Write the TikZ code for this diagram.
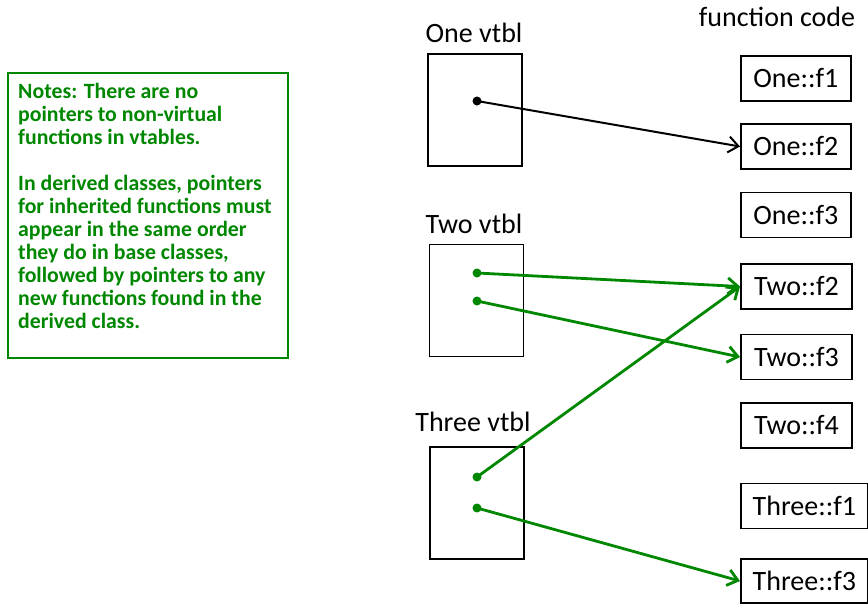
\documentclass[tikz,border=0pt]{standalone}
\usepackage{fontspec}
\setmainfont{Carlito}
\usetikzlibrary{arrows.meta}
\definecolor{ngreen}{RGB}{0,135,0}
\begin{document}
\begin{tikzpicture}[x=1pt,y=-1pt,
  vt/.style={draw,line width=1.8pt,minimum width=94pt,minimum height=112pt,inner sep=0pt},
  fn/.style={draw,line width=1.8pt,anchor=west,minimum height=45pt,inner sep=0pt,font=\fontsize{28}{32}\selectfont},
  lbl/.style={anchor=base,inner sep=0pt,font=\fontsize{28}{32}\selectfont},
  dotb/.style={circle,fill,inner sep=0pt,minimum size=9pt},
  ptr/.style={line width=2pt,-{Straight Barb[length=10pt,width=16pt,line width=2pt]}},
  gptr/.style={ngreen,line width=2.8pt,-{Straight Barb[length=10pt,width=16pt,line width=2.8pt]}}]
\useasboundingbox (0,0) rectangle (868,603);
% notes
\node[draw=ngreen,line width=1.5pt,minimum width=280pt,minimum height=285pt,anchor=north west,inner sep=0pt] (notes) at (7,72) {};
\node[anchor=north west,inner sep=0pt,align=left,text=ngreen,font=\fontsize{21.8}{23}\selectfont\bfseries] (notestext) at (18,83)
{Notes: There are no\\pointers to non-virtual\\functions in vtables.\\[23pt]In derived classes, pointers\\for inherited functions must\\appear in the same order\\they do in base classes,\\followed by pointers to any\\new functions found in the\\derived class.};
% labels
\node[lbl] (lone) at (474,42) {One vtbl};
\node[lbl] (ltwo) at (474,233) {Two vtbl};
\node[lbl] (lthree) at (473,431) {Three vtbl};
\node[lbl] (lfc) at (777,26) {function code};
% vtables
\node[vt] (one) at (475,110) {};
\node[vt] (two) at (476.5,300.5) {};
\node[vt] (three) at (477,503) {};
% function boxes
\node[fn,minimum width=110pt] (of1) at (740,78.5) {One::f1};
\node[fn,minimum width=110pt] (of2) at (740,146.5) {One::f2};
\node[fn,minimum width=110pt] (of3) at (740,215) {One::f3};
\node[fn,minimum width=111pt] (tf2) at (740,286.5) {Two::f2};
\node[fn,minimum width=111pt] (tf3) at (740,357) {Two::f3};
\node[fn,minimum width=111pt] (tf4) at (740,425.5) {Two::f4};
\node[fn,minimum width=127pt] (hf1) at (740,506) {Three::f1};
\node[fn,minimum width=127pt,minimum height=44pt] (hf3) at (740,581) {Three::f3};
% dots
\node[dotb] (d1) at (477,101) {};
\node[dotb,ngreen] (d2) at (477,273) {};
\node[dotb,ngreen] (d3) at (477,301) {};
\node[dotb,ngreen] (d4) at (477,477) {};
\node[dotb,ngreen] (d5) at (477,508) {};
% pointers
\draw[ptr] (d1.center) -- (of2.west);
\draw[gptr] (d2.center) -- (tf2.west);
\draw[gptr] (d3.center) -- (tf3.west);
\draw[gptr] (d4.center) -- (tf2.west);
\draw[gptr] (d5.center) -- (hf3.west);
\end{tikzpicture}
\end{document}
